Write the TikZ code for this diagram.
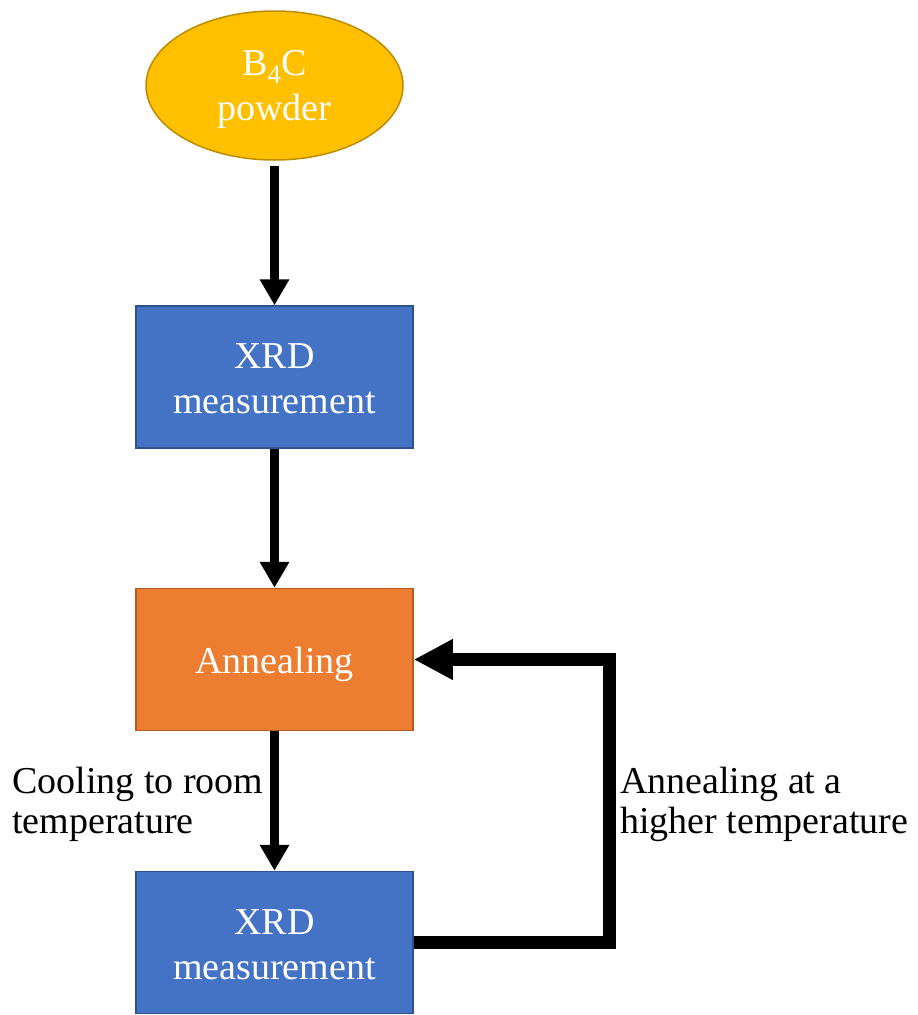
\documentclass[tikz,border=0pt]{standalone}
\usepackage{fontspec}
\setmainfont{Liberation Serif}
\usetikzlibrary{arrows.meta,shapes.geometric}
\definecolor{goldfill}{HTML}{FFC000}
\definecolor{golddraw}{HTML}{BC8C00}
\definecolor{bluefill}{HTML}{4472C4}
\definecolor{bluedraw}{HTML}{2F528F}
\definecolor{orangefill}{HTML}{ED7D31}
\definecolor{orangedraw}{HTML}{AE5A21}
\begin{document}
\begin{tikzpicture}[x=1pt,y=-1pt,
  boxtext/.style={text=white, font=\fontsize{38}{45}\selectfont, align=center},
  procbox/.style={rectangle, boxtext, minimum width=277pt, minimum height=142pt, line width=1.5pt, inner sep=0pt},
  xrdbox/.style={procbox, fill=bluefill, draw=bluedraw, text height=73pt, text depth=0pt},
  annbox/.style={procbox, fill=orangefill, draw=orangedraw, text height=35pt, text depth=8pt},
  startell/.style={ellipse, boxtext, minimum width=257pt, minimum height=149pt, inner sep=0pt, line width=1.5pt, fill=goldfill, draw=golddraw, text height=77pt, text depth=8pt},
  lbl/.style={font=\fontsize{38}{40}\selectfont, align=left, inner sep=0pt, anchor=base west},
  varrow/.style={line width=9pt, -{Triangle[length=26pt,width=28pt]}},
  looparrow/.style={line width=13pt, -{Triangle[length=39pt,width=38pt]}}
]
\useasboundingbox (0,0) rectangle (918,1015);
\node[startell] (pw) at (274.5,85.5) {B\textsubscript{4}C\\powder};
\node[xrdbox] (x1) at (274.5,377) {XRD\\measurement};
\node[annbox] (an) at (274.5,659.5) {Annealing};
\node[xrdbox] (x2) at (274.5,942.5) {XRD\\measurement};
\draw[varrow, shorten <=5pt] (pw.south) -- (x1.north);
\draw[varrow] (x1.south) -- (an.north);
\draw[varrow] (an.south) -- (x2.north);
\coordinate (corner) at (609.5,942.5);
\draw[looparrow] (x2.east) -- (corner) |- (an.east);
\node[lbl] (cool) at (12,833) {Cooling to room\\temperature};
\node[lbl] (hot) at (620,833) {Annealing at a\\higher temperature};
\end{tikzpicture}
\end{document}
